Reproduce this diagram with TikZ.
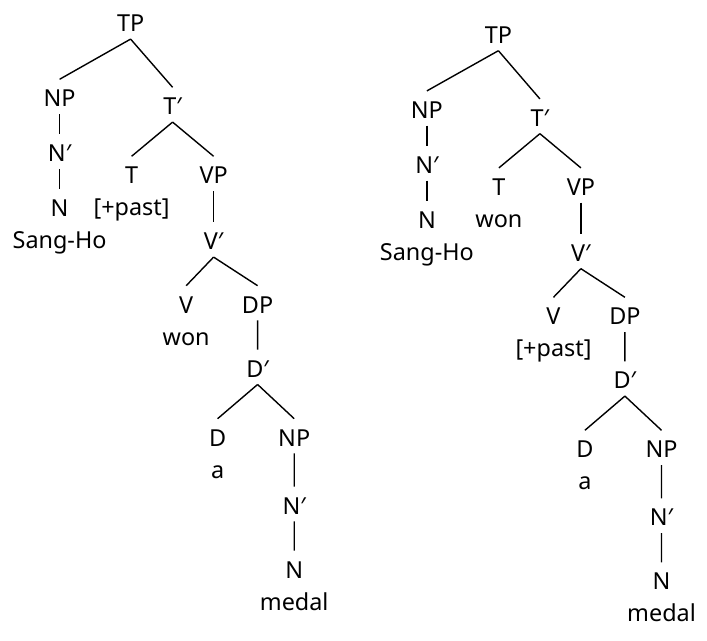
\documentclass[tikz,border=0pt]{standalone}
\usepackage{fontspec}
\setmainfont{Noto Sans}
\usepackage{tikz}
\usetikzlibrary{trees}

\begin{document}
\begin{tikzpicture}[
    every node/.style={font=\fontsize{11.7pt}{15pt}\selectfont,
      inner sep=3.5pt, text height=10pt, text depth=0pt},
    edge from parent/.style={draw, line width=0.7pt},
    edge from parent path={(\tikzparentnode.south) -- (\tikzchildnode.north)},
    level 1/.style={level distance=37.5pt, sibling distance=56.5pt},
    level 2/.style={level distance=34.5pt, sibling distance=41pt},
    level 3/.style={level distance=33pt},
    level 4/.style={level distance=31.7pt, sibling distance=35.7pt},
    level 5/.style={level distance=32pt},
    level 6/.style={level distance=34.5pt, sibling distance=38.3pt},
    level 7/.style={level distance=34pt},
    level 8/.style={level distance=32pt},
    level 9/.style={level distance=16pt},
    unary/.style={level distance=27.5pt},
    leaf/.style={level distance=16pt}]
  \useasboundingbox (0,0) rectangle (353.5pt,-320.5pt);
  \node (Left) at (65.3pt,-10.85pt) {TP}
  child[xshift=-7.25pt] {
    node {NP}
    child[unary] {
      node {N′}
      child[unary] {
        node {N}
        child[leaf] { node {Sang-Ho} edge from parent[draw=none] }
      }
    }
  }
  child[xshift=-7.25pt, yshift=-4pt] {
    node {T′}
    child {
      node {T}
      child[leaf] { node {[+past]} edge from parent[draw=none] }
    }
    child {
      node {VP}
      child {
        node {V′}
        child[xshift=4.15pt] {
          node {V}
          child[leaf] { node {won} edge from parent[draw=none] }
        }
        child[xshift=4.15pt] {
          node {DP}
          child {
            node {D′}
            child[xshift=-0.85pt] {
              node {D}
              child[leaf] { node {a} edge from parent[draw=none] }
            }
            child[xshift=-0.85pt] {
              node {NP}
              child {
                node {N′}
                child {
                  node {N}
                  child { node {medal} edge from parent[draw=none] }
                }
              }
            }
          }
        }
      }
    }
  };
  \node (Right) at (249.2pt,-16.65pt) {TP}
  child[xshift=-7.5pt] {
    node {NP}
    child[unary] {
      node {N′}
      child[unary] {
        node {N}
        child[leaf] { node {Sang-Ho} edge from parent[draw=none] }
      }
    }
  }
  child[xshift=-7.5pt, yshift=-4pt] {
    node {T′}
    child {
      node {T}
      child[leaf] { node {won} edge from parent[draw=none] }
    }
    child {
      node {VP}
      child {
        node {V′}
        child[xshift=4.15pt] {
          node {V}
          child[leaf] { node {[+past]} edge from parent[draw=none] }
        }
        child[xshift=4.15pt] {
          node {DP}
          child {
            node {D′}
            child[xshift=-0.85pt] {
              node {D}
              child[leaf] { node {a} edge from parent[draw=none] }
            }
            child[xshift=-0.85pt] {
              node {NP}
              child {
                node {N′}
                child {
                  node {N}
                  child { node {medal} edge from parent[draw=none] }
                }
              }
            }
          }
        }
      }
    }
  };
\end{tikzpicture}
\end{document}
